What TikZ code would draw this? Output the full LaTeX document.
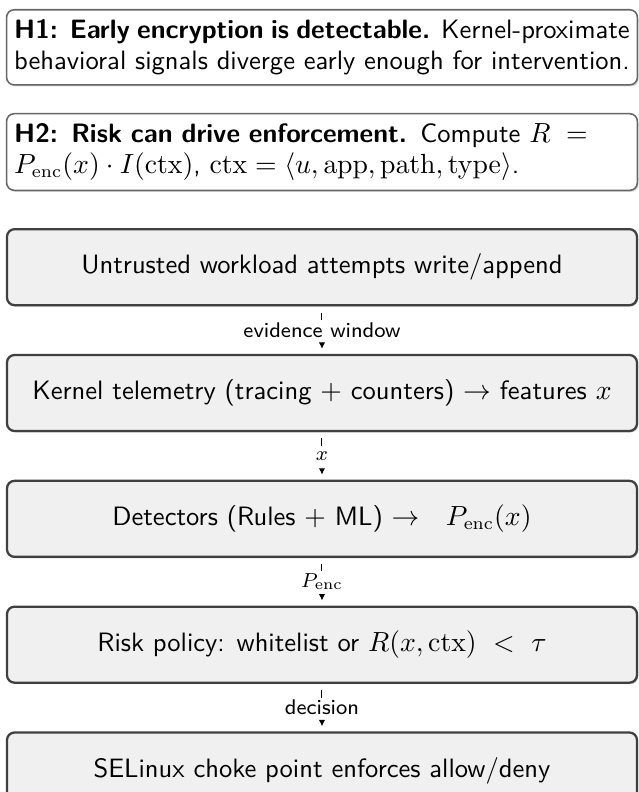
\documentclass[tikz,border=0pt]{standalone}
\usepackage{amssymb}
\usepackage{tikz}
\usetikzlibrary{shapes,arrows,arrows.meta,shadows,positioning}

\begin{document}
\begin{tikzpicture}[node distance=0.66cm]
	\tikzstyle{Hypo}	= [draw=black!60, line width=0.6pt, rounded corners=3pt, fill=white, drop shadow={shadow xshift=0.5pt, shadow yshift=-0.6pt, fill=black!35}, text width=8.55cm, inner xsep=3pt, inner ysep=4pt, align=left, font=\sffamily\fontsize{10.5}{12}\selectfont]
	\tikzstyle{Stage}	= [draw=black!75, line width=0.9pt, rounded corners=3pt, fill=black!6, drop shadow={shadow xshift=0.5pt, shadow yshift=-0.6pt, fill=black!35}, minimum width=8.75cm, minimum height=1.056cm, font=\sffamily\fontsize{10.5}{12.6}\selectfont]
	\tikzstyle{Flow}	= [dashed, -{Latex[length=2.5pt, width=2.5pt]}, shorten <=2.5pt, shorten >=2pt]
	\tikzstyle{Tag}		= [fill=white, inner sep=1pt, font=\sffamily\fontsize{8.4}{10}\selectfont]

	\useasboundingbox (0,0) rectangle (8.875,-11);
	\clip (0,0) rectangle (8.875,-11);

	% hypotheses
	\node (h1) at (4.472,-0.125) [Hypo, align=justify, anchor=north] {\textbf{H1: Early encryption is detectable.} Kernel-proximate behavioral signals diverge early enough for intervention.};
	\node (h2) at (4.472,-1.569) [Hypo, anchor=north] {\textbf{H2: Risk can drive enforcement.} Compute $R\;=$\\ $P_{\mathrm{enc}}(x) \cdot I(\mathrm{ctx})$, $\mathrm{ctx} = \langle u, \mathrm{app}, \mathrm{path}, \mathrm{type}\rangle$.};

	% pipeline
	\node (s1) at (4.472,-3.167) [Stage, anchor=north] {Untrusted workload attempts write/append};
	\node (s2) [Stage, below=of s1] {Kernel telemetry (tracing $+$ counters) $\rightarrow$ features $x$};
	\node (s3) [Stage, below=of s2] {Detectors (Rules $+$ ML) $\rightarrow$\quad$P_{\mathrm{enc}}(x)$};
	\node (s4) [Stage, below=of s3] {Risk policy: whitelist or $R(x, \mathrm{ctx})\ <\ \tau$};
	\node (s5) [Stage, below=of s4] {SELinux choke point enforces allow/deny};

	\foreach \a/\b/\t in {s1/s2/evidence window, s2/s3/$x$, s3/s4/$P_{\mathrm{enc}}$, s4/s5/decision}
		\draw [Flow] (\a) to node [Tag] {\t} (\b);
\end{tikzpicture}
\end{document}
